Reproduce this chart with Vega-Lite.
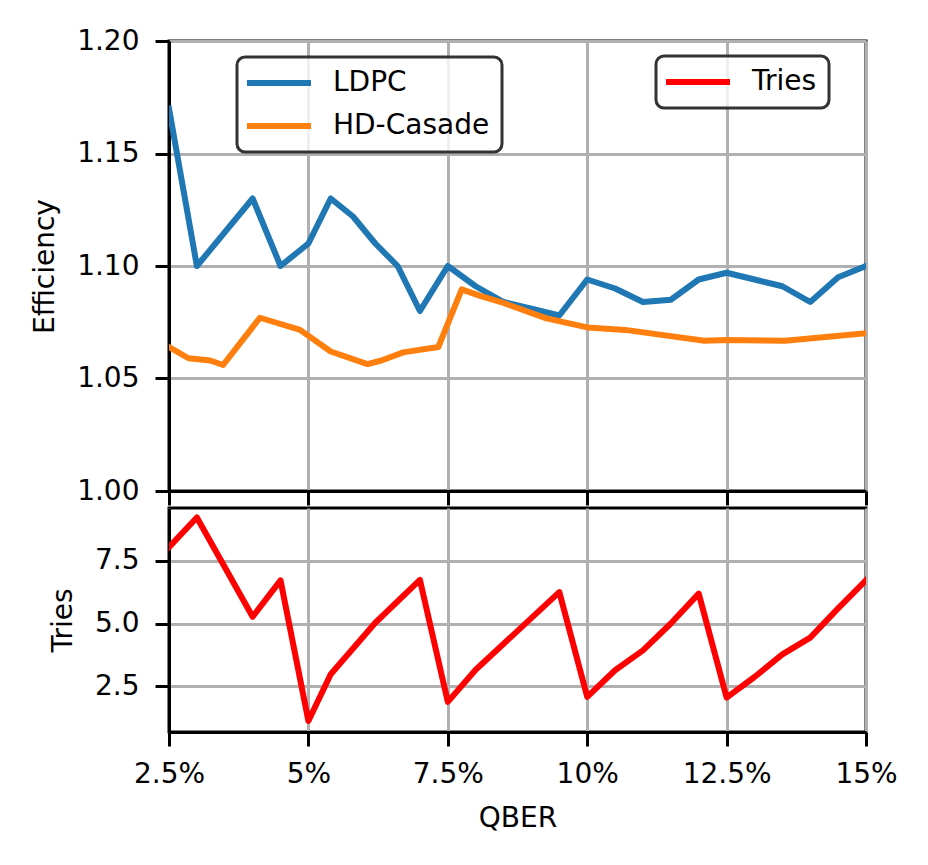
{
  "$schema": "https://vega.github.io/schema/vega-lite/v6.json",
  "background": "white",
  "padding": {"left": 30, "top": 25, "right": 20, "bottom": 20},
  "bounds": "flush",
  "spacing": 17,
  "data": {
    "values": [
      {"series": "LDPC", "qber": 2.5, "value": 1.170},
      {"series": "LDPC", "qber": 3.0, "value": 1.100},
      {"series": "LDPC", "qber": 4.0, "value": 1.130},
      {"series": "LDPC", "qber": 4.5, "value": 1.100},
      {"series": "LDPC", "qber": 5.0, "value": 1.110},
      {"series": "LDPC", "qber": 5.4, "value": 1.130},
      {"series": "LDPC", "qber": 5.8, "value": 1.122},
      {"series": "LDPC", "qber": 6.2, "value": 1.110},
      {"series": "LDPC", "qber": 6.6, "value": 1.100},
      {"series": "LDPC", "qber": 7.0, "value": 1.080},
      {"series": "LDPC", "qber": 7.5, "value": 1.100},
      {"series": "LDPC", "qber": 8.0, "value": 1.091},
      {"series": "LDPC", "qber": 8.5, "value": 1.084},
      {"series": "LDPC", "qber": 9.0, "value": 1.081},
      {"series": "LDPC", "qber": 9.5, "value": 1.078},
      {"series": "LDPC", "qber": 10.0, "value": 1.094},
      {"series": "LDPC", "qber": 10.5, "value": 1.090},
      {"series": "LDPC", "qber": 11.0, "value": 1.084},
      {"series": "LDPC", "qber": 11.5, "value": 1.085},
      {"series": "LDPC", "qber": 12.0, "value": 1.094},
      {"series": "LDPC", "qber": 12.5, "value": 1.097},
      {"series": "LDPC", "qber": 13.0, "value": 1.094},
      {"series": "LDPC", "qber": 13.5, "value": 1.091},
      {"series": "LDPC", "qber": 14.0, "value": 1.084},
      {"series": "LDPC", "qber": 14.5, "value": 1.095},
      {"series": "LDPC", "qber": 15.0, "value": 1.100},
      {"series": "HD-Casade", "qber": 2.5, "value": 1.064},
      {"series": "HD-Casade", "qber": 2.85, "value": 1.059},
      {"series": "HD-Casade", "qber": 3.24, "value": 1.058},
      {"series": "HD-Casade", "qber": 3.47, "value": 1.056},
      {"series": "HD-Casade", "qber": 4.13, "value": 1.077},
      {"series": "HD-Casade", "qber": 4.85, "value": 1.0716},
      {"series": "HD-Casade", "qber": 5.4, "value": 1.062},
      {"series": "HD-Casade", "qber": 6.06, "value": 1.0564},
      {"series": "HD-Casade", "qber": 6.31, "value": 1.058},
      {"series": "HD-Casade", "qber": 6.7, "value": 1.0616},
      {"series": "HD-Casade", "qber": 7.33, "value": 1.064},
      {"series": "HD-Casade", "qber": 7.75, "value": 1.0896},
      {"series": "HD-Casade", "qber": 8.08, "value": 1.0867},
      {"series": "HD-Casade", "qber": 8.44, "value": 1.0841},
      {"series": "HD-Casade", "qber": 9.27, "value": 1.0767},
      {"series": "HD-Casade", "qber": 10.0, "value": 1.0727},
      {"series": "HD-Casade", "qber": 10.68, "value": 1.0716},
      {"series": "HD-Casade", "qber": 12.1, "value": 1.0668},
      {"series": "HD-Casade", "qber": 12.5, "value": 1.0671},
      {"series": "HD-Casade", "qber": 13.55, "value": 1.0668},
      {"series": "HD-Casade", "qber": 15.0, "value": 1.0701},
      {"series": "Tries", "qber": 2.5, "value": 8.04},
      {"series": "Tries", "qber": 3.0, "value": 9.22},
      {"series": "Tries", "qber": 4.0, "value": 5.27},
      {"series": "Tries", "qber": 4.5, "value": 6.72},
      {"series": "Tries", "qber": 5.0, "value": 1.12},
      {"series": "Tries", "qber": 5.4, "value": 2.98},
      {"series": "Tries", "qber": 6.2, "value": 5.03},
      {"series": "Tries", "qber": 7.0, "value": 6.74},
      {"series": "Tries", "qber": 7.5, "value": 1.88},
      {"series": "Tries", "qber": 8.0, "value": 3.16},
      {"series": "Tries", "qber": 9.5, "value": 6.25},
      {"series": "Tries", "qber": 10.0, "value": 2.08},
      {"series": "Tries", "qber": 10.5, "value": 3.14},
      {"series": "Tries", "qber": 11.0, "value": 3.93},
      {"series": "Tries", "qber": 11.5, "value": 5.0},
      {"series": "Tries", "qber": 12.0, "value": 6.19},
      {"series": "Tries", "qber": 12.5, "value": 2.05},
      {"series": "Tries", "qber": 13.0, "value": 2.87},
      {"series": "Tries", "qber": 13.5, "value": 3.77},
      {"series": "Tries", "qber": 14.0, "value": 4.44},
      {"series": "Tries", "qber": 14.5, "value": 5.6},
      {"series": "Tries", "qber": 15.0, "value": 6.72}
    ]
  },
  "vconcat": [
    {
      "width": 697,
      "height": 450,
      "transform": [{"filter": "datum.series !== 'Tries'"}],
      "mark": {"type": "line", "strokeWidth": 6, "strokeJoin": "round", "strokeCap": "square", "clip": true},
      "encoding": {
        "x": {
          "field": "qber", "type": "quantitative",
          "scale": {"domain": [2.5, 15], "nice": false, "zero": false},
          "axis": {"title": null, "labels": false, "values": [2.5, 5, 7.5, 10, 12.5, 15]}
        },
        "y": {
          "field": "value", "type": "quantitative",
          "scale": {"domain": [1.0, 1.2], "nice": false, "zero": false},
          "axis": {"title": "Efficiency", "values": [1.0, 1.05, 1.1, 1.15, 1.2], "format": ".2f"}
        },
        "color": {
          "field": "series", "type": "nominal",
          "scale": {"domain": ["LDPC", "HD-Casade"], "range": ["#1f77b4", "#ff7f0e"]},
          "legend": {"orient": "none", "legendX": 68, "legendY": 16, "title": null,
            "encode": {"legend": {"update": {"strokeWidth": {"value": 3}}}}}
        }
      }
    },
    {
      "width": 697,
      "height": 224,
      "transform": [{"filter": "datum.series === 'Tries'"}],
      "mark": {"type": "line", "strokeWidth": 6, "strokeJoin": "round", "strokeCap": "square", "clip": true},
      "encoding": {
        "x": {
          "field": "qber", "type": "quantitative",
          "scale": {"domain": [2.5, 15], "nice": false, "zero": false},
          "axis": {"title": "QBER", "values": [2.5, 5, 7.5, 10, 12.5, 15], "labelExpr": "datum.value + '%'"}
        },
        "y": {
          "field": "value", "type": "quantitative",
          "scale": {"domain": [0.68, 9.6], "nice": false, "zero": false},
          "axis": {"title": "Tries", "values": [2.5, 5, 7.5], "format": ".1f"}
        },
        "color": {
          "field": "series", "type": "nominal",
          "scale": {"domain": ["Tries"], "range": ["#ff0000"]},
          "legend": {"orient": "none", "legendX": 487, "legendY": -452, "title": null,
            "encode": {"legend": {"update": {"strokeWidth": {"value": 3}}}}}
        }
      }
    }
  ],
  "resolve": {
    "scale": {"x": "independent", "y": "independent", "color": "independent"},
    "legend": {"color": "independent"}
  },
  "config": {
    "font": "DejaVu Sans",
    "view": {"stroke": "black", "strokeWidth": 3},
    "axis": {
      "labelFont": "DejaVu Sans", "labelFontSize": 28, "labelColor": "black",
      "titleFont": "DejaVu Sans", "titleFontSize": 28, "titleFontWeight": "normal", "titleColor": "black",
      "tickColor": "black", "tickSize": 14, "tickWidth": 3,
      "domainColor": "black", "domainWidth": 3,
      "grid": true, "gridColor": "#b0b0b0", "gridWidth": 3,
      "labelFlush": false, "labelOverlap": false
    },
    "axisX": {"labelPadding": 14, "titlePadding": 16},
    "axisY": {"labelPadding": 16, "titlePadding": 17},
    "legend": {
      "labelFont": "DejaVu Sans", "labelFontSize": 28, "labelColor": "black",
      "symbolType": "M-2,0H6", "symbolSize": 256, "symbolStrokeWidth": 6,
      "labelOffset": 56, "rowPadding": 15, "padding": 12,
      "cornerRadius": 8, "strokeColor": "#333333", "fillColor": "rgba(255,255,255,0.8)"
    }
  }
}
